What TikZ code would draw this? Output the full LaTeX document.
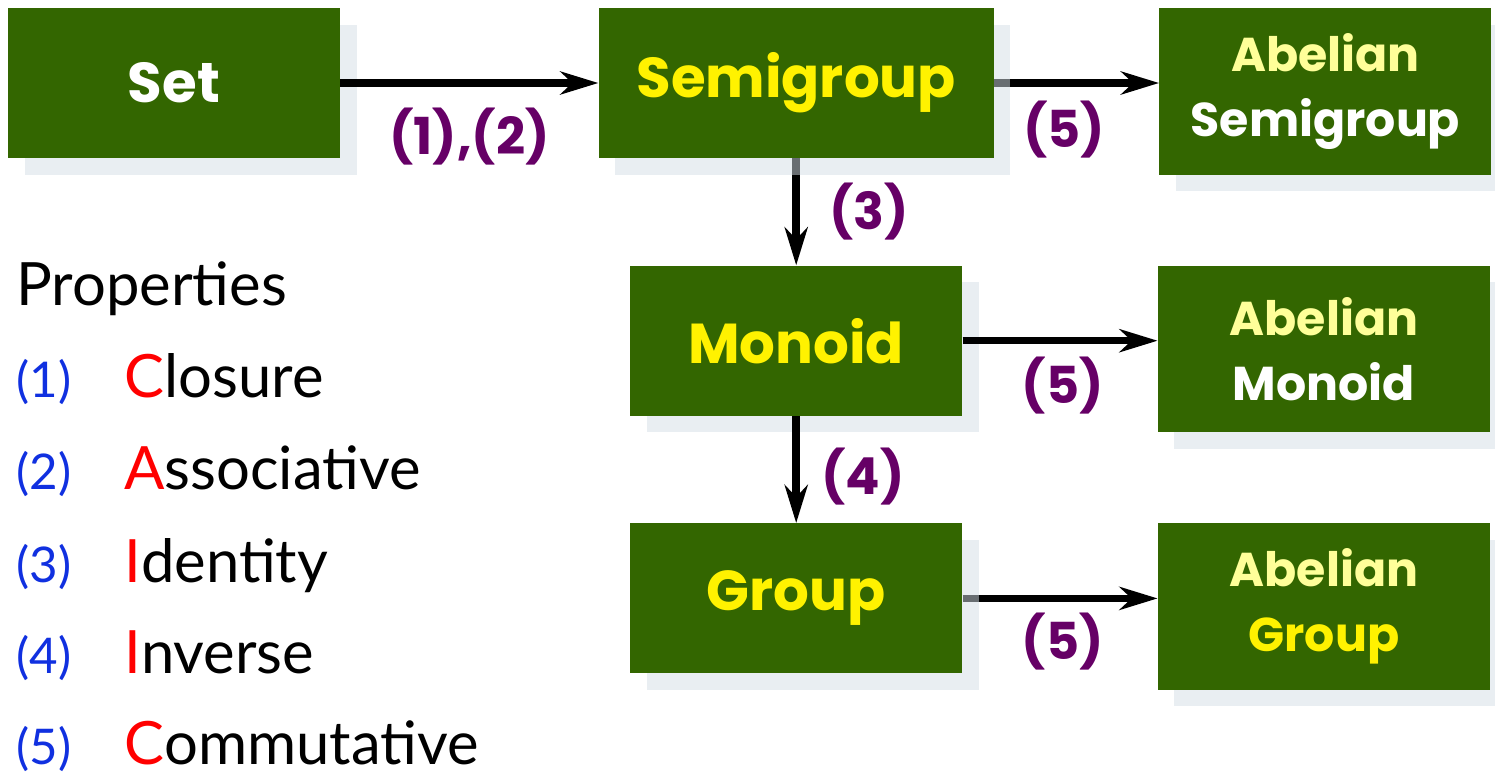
\documentclass[tikz,border=0pt]{standalone}
\usepackage{fontspec}
\setmainfont{Lato}
\newfontfamily\boxfont{Poppins}
\usetikzlibrary{arrows.meta, positioning, shadows, backgrounds}

\definecolor{groupgreen}{HTML}{336600}
\definecolor{paleyellow}{HTML}{FFFF99}
\definecolor{refpurple}{HTML}{660066}
\definecolor{refblue}{HTML}{1030E0}
\definecolor{shadowgrey}{HTML}{D3DDE5}

\begin{document}
\begin{tikzpicture}[
    node distance=2.14cm and 5.16cm,
    struct/.style={rectangle, fill=groupgreen, minimum width=6.64cm, minimum height=3cm, inner sep=0pt, align=center,
        font=\boxfont\bfseries\fontsize{32}{40}\selectfont,
        drop shadow={shadow xshift=0.33cm, shadow yshift=-0.33cm, fill=shadowgrey, opacity=0.5}},
    abelian/.style={struct, minimum height=3.33cm, font=\boxfont\bfseries\fontsize{27}{37}\selectfont},
    axiomref/.style={font=\boxfont\bfseries\fontsize{29}{32}\selectfont, text=refpurple},
    arrow/.style={-{Stealth[length=0.76cm, width=0.46cm, inset=0.24cm]}, line width=0.15cm},
    refnum/.style={anchor=base west, inner sep=0pt, text=refblue, font=\fontsize{28}{34}\selectfont},
    axiom/.style={anchor=base west, inner sep=0pt, font=\fontsize{34}{40}\selectfont}
]
\useasboundingbox (0,0) rectangle (29.9,-15.58);

% Left column and the chain
\node[struct, text=white] (set) at (3.48,-1.66) {Set};
\node[struct, text=yellow, minimum width=7.9cm, right=of set] (semigroup) {Semigroup};
\node[struct, text=yellow, below=of semigroup] (monoid) {Monoid};
\node[struct, text=yellow, below=of monoid] (group) {Group};

% Abelian versions
\node[abelian, right=3.3cm of semigroup.north east, anchor=north west] (absemigroup) {\textcolor{paleyellow}{Abelian}\\\textcolor{white}{Semigroup}};
\node[abelian, right=3.9cm of monoid.north east, anchor=north west] (abmonoid) {\textcolor{paleyellow}{Abelian}\\\textcolor{white}{Monoid}};
\node[abelian, right=3.9cm of group.north east, anchor=north west] (abgroup) {\textcolor{paleyellow}{Abelian}\\\textcolor{yellow}{Group}};

% Connections
\draw[arrow] (set) -- (semigroup) node[axiomref, midway, yshift=-1.08cm] {(1),(2)};
\draw[arrow] (monoid) -- (monoid.east -| abmonoid.west) node[axiomref, midway, xshift=0.05cm, yshift=-0.9cm] {(5)};
\draw[arrow] (monoid.south) -- (monoid.south |- group.north) node[axiomref, midway, xshift=1.34cm, yshift=-0.13cm] {(4)};
\begin{scope}[on background layer]
\draw[arrow] (semigroup) -- (semigroup.east -| absemigroup.west) node[axiomref, midway, xshift=-0.25cm, yshift=-0.94cm] {(5)};
\draw[arrow] (semigroup.south) -- (semigroup.south |- monoid.north) node[axiomref, midway, xshift=1.46cm] {(3)};
\draw[arrow] (group) -- (group.east -| abgroup.west) node[axiomref, midway, xshift=0.05cm, yshift=-0.86cm] {(5)};
\end{scope}

% Properties
\node[axiom] (properties) at (0.32,-6.1) {Properties};
\node[refnum] (ref1) at (0.32,-7.94) {(1)};
\node[axiom] (ax1) at (2.48,-7.94) {{\color{red}C}losure};
\node[refnum] (ref2) at (0.32,-9.78) {(2)};
\node[axiom] (ax2) at (2.48,-9.78) {{\color{red}A}ssociative};
\node[refnum] (ref3) at (0.32,-11.64) {(3)};
\node[axiom] (ax3) at (2.48,-11.64) {{\color{red}I}dentity};
\node[refnum] (ref4) at (0.32,-13.46) {(4)};
\node[axiom] (ax4) at (2.48,-13.46) {{\color{red}I}nverse};
\node[refnum] (ref5) at (0.32,-15.28) {(5)};
\node[axiom] (ax5) at (2.48,-15.28) {{\color{red}C}ommutative};

\end{tikzpicture}
\end{document}
